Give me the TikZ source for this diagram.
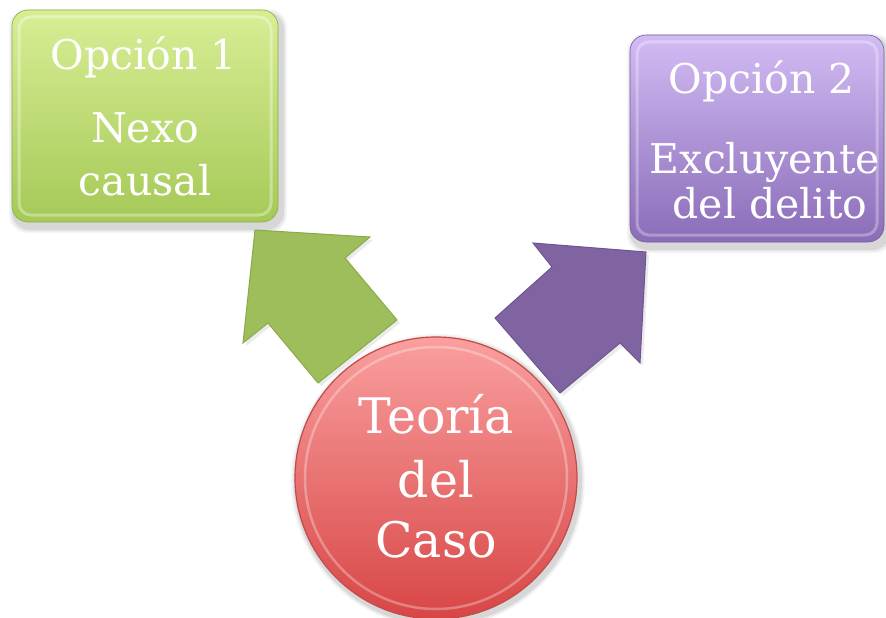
\documentclass[tikz,border=0pt]{standalone}
\usepackage{fontspec}
\setmainfont{DejaVu Serif}
\definecolor{greenTop}{HTML}{D8EE95}
\definecolor{greenBot}{HTML}{A5C957}
\definecolor{purpleTop}{HTML}{D2BCF4}
\definecolor{purpleBot}{HTML}{8A6CB8}
\definecolor{arrGreen}{HTML}{9DBE5A}
\definecolor{arrGreenEdge}{HTML}{8AAA48}
\definecolor{arrPurple}{HTML}{8064A2}
\definecolor{arrPurpleEdge}{HTML}{6E5590}
\definecolor{redTop}{HTML}{FA9F9F}
\definecolor{redBot}{HTML}{D84646}
\definecolor{redEdge}{HTML}{C24A48}
\tikzset{
  boxshape/.style={rectangle, rounded corners=16pt, inner sep=0pt},
  boxtext/.style={anchor=base, text=white, inner sep=0pt, font=\fontsize{41}{48}\selectfont},
  circtext/.style={anchor=base, text=white, inner sep=0pt, font=\fontsize{49}{56}\selectfont},
  shadowlayer/.style={fill=black, fill opacity=#1},
}
\begin{document}
\begin{tikzpicture}[x=1pt,y=-1pt]
\fill[white] (0,0) rectangle (886,618);
\useasboundingbox (0,0) rectangle (886,618);

% ---- shadows
\foreach \d/\o in {6/0.04,4.5/0.05,3/0.07}{
  \fill[black, opacity=\o, rounded corners=18pt] (12-\d+3,10-\d+5) rectangle (278+\d+3,222+\d+5);
  \fill[black, opacity=\o, rounded corners=18pt] (630-\d+3,35-\d+5) rectangle (884+\d+3,242+\d+5);
  \fill[black, opacity=\o] (438,481) circle (141+\d);
}

% ---- boxes
\node[boxshape, minimum width=266pt, minimum height=212pt,
      top color=greenTop, bottom color=greenBot, draw=greenBot!85!black, line width=0.6pt]
      (box1) at (145,116) {};
\draw[white, opacity=0.35, line width=3pt, rounded corners=12pt] (19,17) rectangle (271,215);
\node[boxshape, minimum width=254pt, minimum height=207pt,
      top color=purpleTop, bottom color=purpleBot, draw=purpleBot!85!black, line width=0.6pt]
      (box2) at (757,138.5) {};
\draw[white, opacity=0.3, line width=3pt, rounded corners=12pt] (637,42) rectangle (877,235);

\node[boxtext] (t1a) at (144,70) {Opción 1};
\node[boxtext] (t1b) at (145,142) {Nexo};
\node[boxtext] (t1c) at (145,195) {causal};
\node[boxtext] (t2a) at (762,93) {Opción 2};
\node[boxtext] (t2b) at (765,173) {Excluyente};
\node[boxtext] (t2c) at (770,218) {del delito};

% ---- arrows
\fill[black, opacity=0.08] (258,233) -- (373,240) -- (348,261) -- (400,323) -- (321,386) -- (271,326) -- (246,346) -- cycle;
\filldraw[fill=arrGreen, draw=arrGreenEdge, line width=1pt, line join=miter]
  (255,230) -- (370,237) -- (345,258) -- (397,320) -- (318,383) -- (268,323) -- (243,343) -- cycle;
\fill[black, opacity=0.08] (649,255) -- (643,366) -- (623,346) -- (563,396) -- (498,321) -- (555,270) -- (536,246) -- cycle;
\filldraw[fill=arrPurple, draw=arrPurpleEdge, line width=1pt, line join=miter]
  (646,252) -- (640,363) -- (620,343) -- (560,393) -- (495,318) -- (552,267) -- (533,243) -- cycle;

% ---- circle
\node[circle, minimum size=282pt, inner sep=0pt, top color=redTop, bottom color=redBot,
      draw=redEdge, line width=1.2pt] (c) at (436,478) {};
\draw[white, opacity=0.3, line width=2.5pt] (c.center) circle (131);

\node[circtext] (c1) at (436,433) {Teoría};
\node[circtext] (c2) at (436,497) {del};
\node[circtext] (c3) at (436,557) {Caso};
\end{tikzpicture}
\end{document}
